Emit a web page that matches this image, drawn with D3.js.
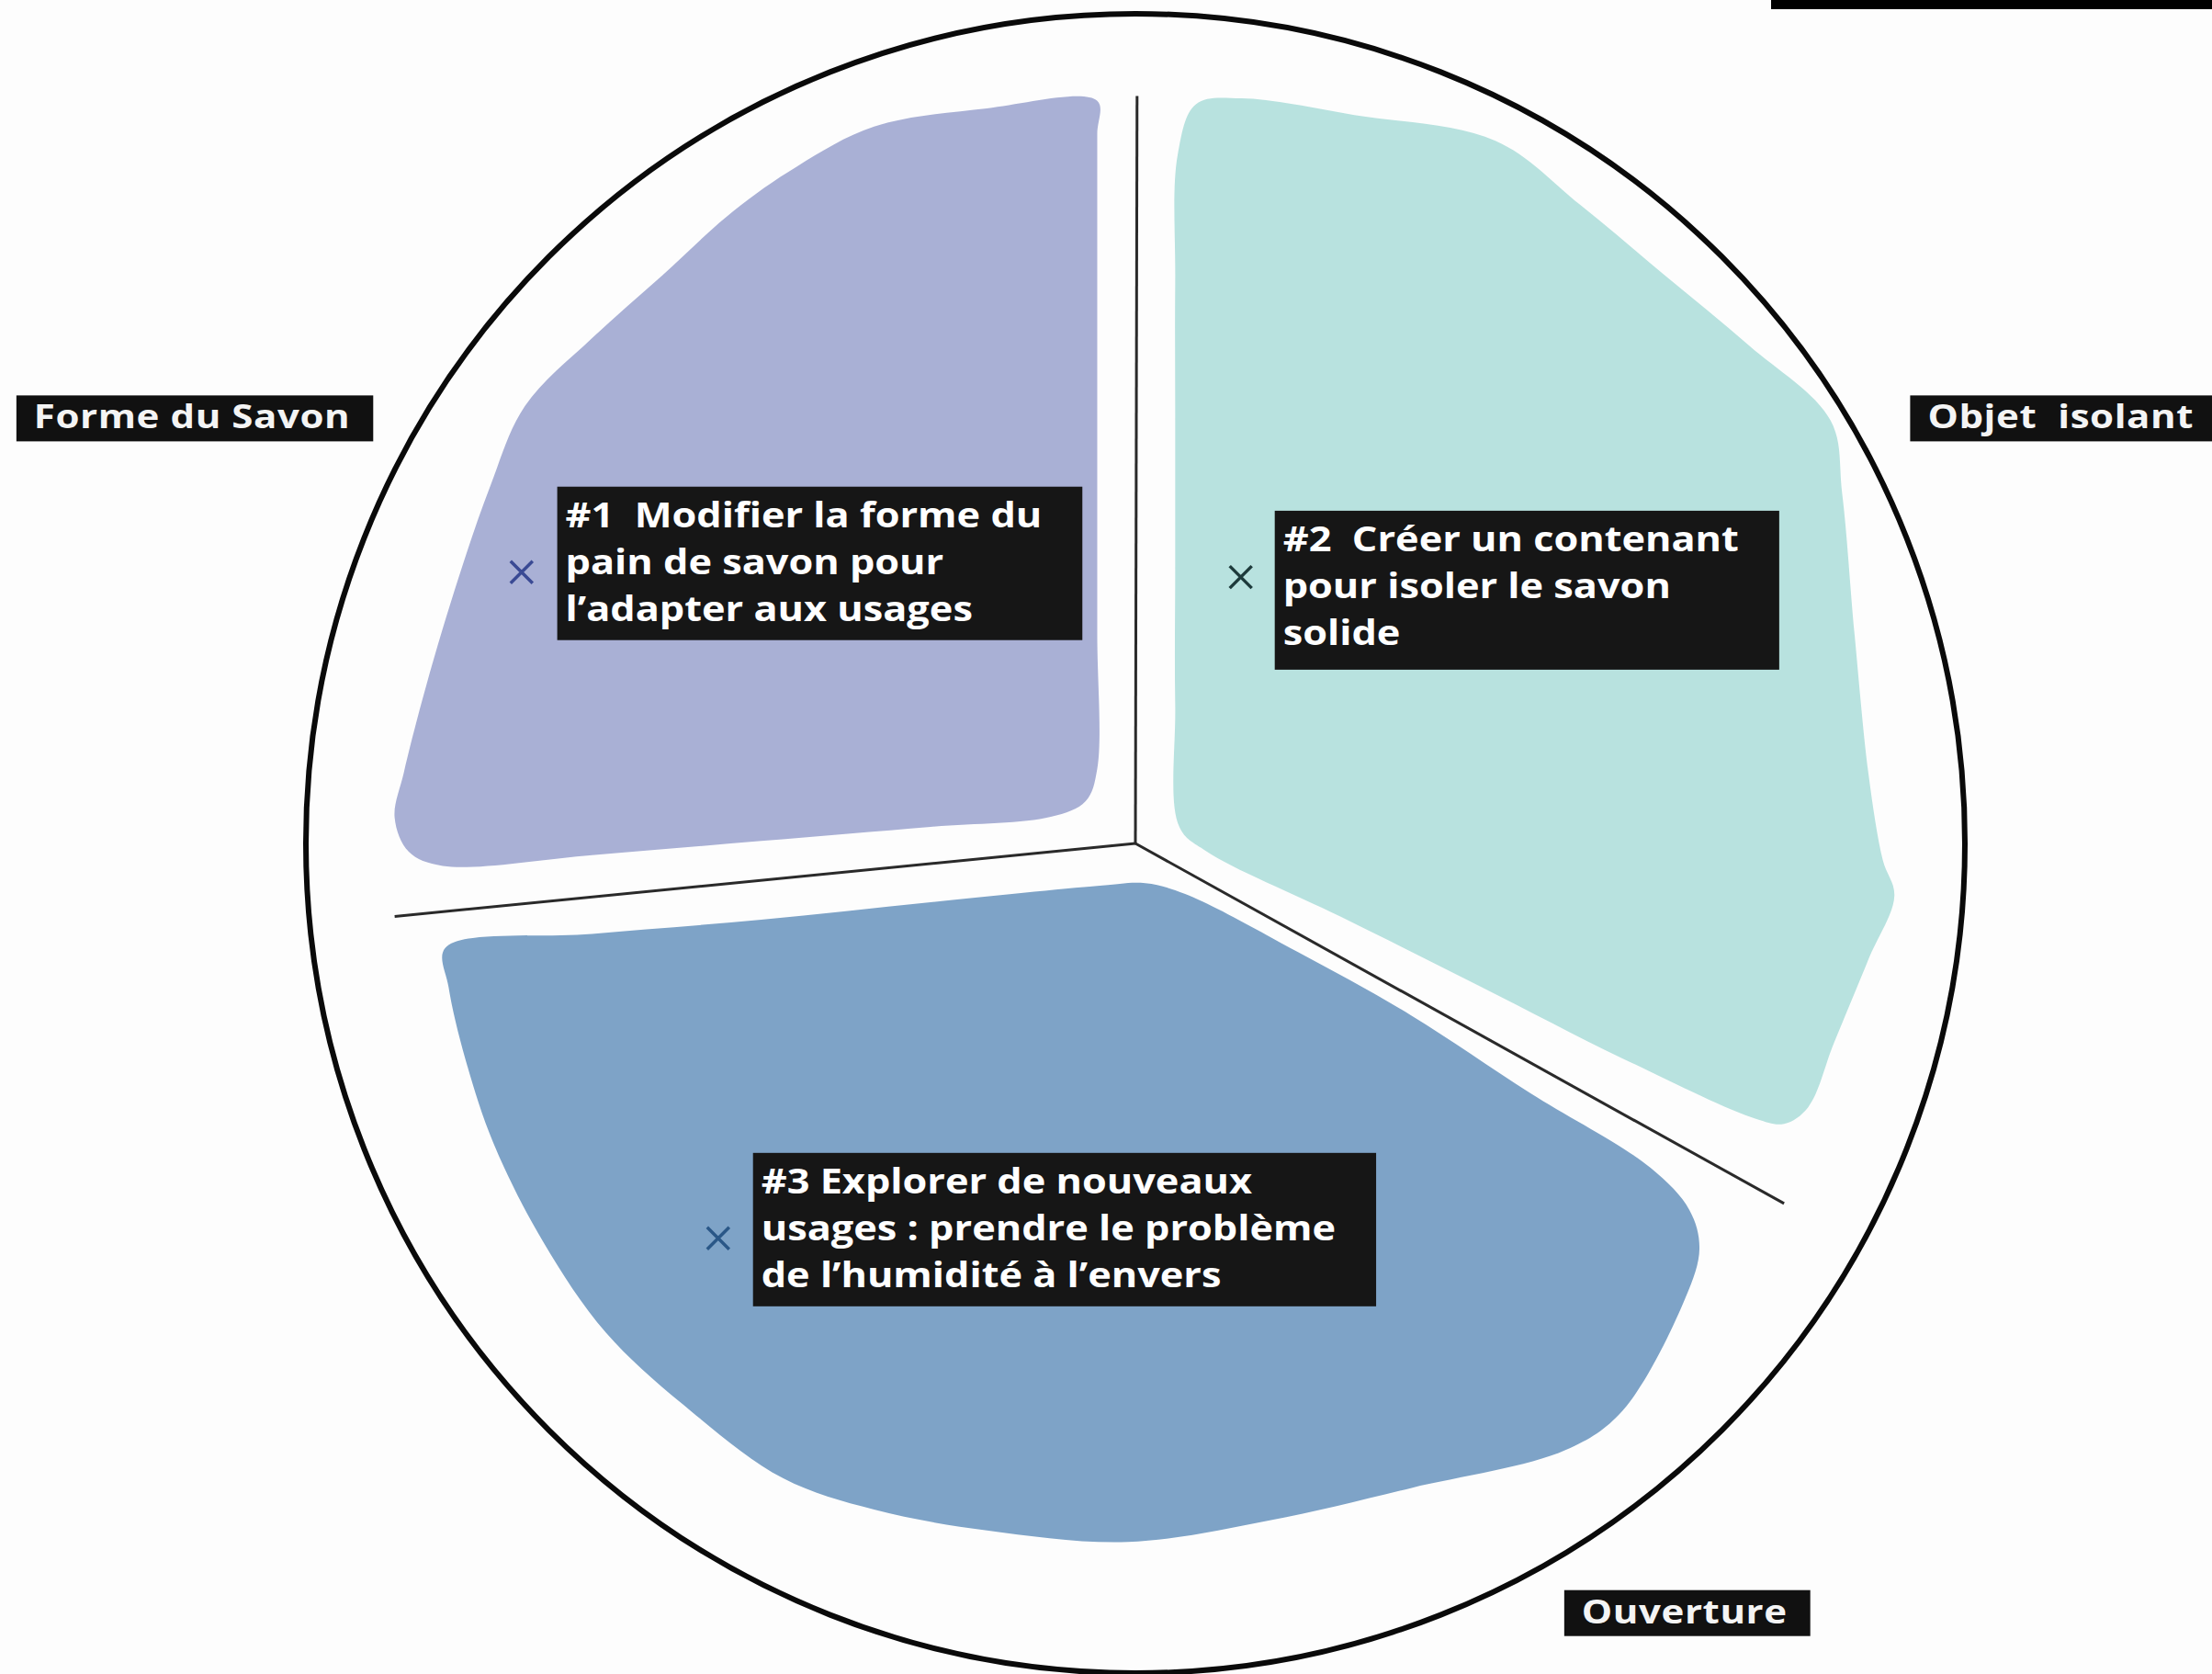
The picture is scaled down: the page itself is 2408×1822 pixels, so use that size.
<!DOCTYPE html>
<html>
<head>
  <meta charset="utf-8">
  <title>Pistes - savon solide</title>
  <script src="https://cdn.jsdelivr.net/npm/d3@7"></script>
  <style>
    body { margin: 0; background: #fdfdfd; }
    svg text { font-family: "Open Sans", sans-serif; font-weight: 700; white-space: pre; }
  </style>
</head>
<body>

<svg width="2408" height="1822"></svg>

<script>
    // axes / categories around the circle
    const categories = ['Forme du Savon', 'Objet  isolant', 'Ouverture'];
    // where each category tag sits (circle units, centre = 0, radius = 1)
    const categoryPos = [[-1.349, -0.540], [0.934, -0.540], [0.517, 0.900]];

    // the three ideas
    const ideaLines = [
        ['#1  Modifier la forme du', 'pain de savon pour', 'l\u2019adapter aux usages'],
        ['#2  Cr\u00e9er un contenant', 'pour isoler le savon', 'solide'],
        ['#3 Explorer de nouveaux', 'usages : prendre le probl\u00e8me', 'de l\u2019humidit\u00e9 \u00e0 l\u2019envers']
    ];
    const ideaBoxPos = [[-0.697, -0.430], [0.168, -0.401], [-0.461, 0.373]];
    const ideaMarks = [[-0.740, -0.327], [0.127, -0.321], [-0.503, 0.476]];
    const ideaColors = ['#a9b0d5', '#b8e2df', '#7ea3c7'];
    const markColors = ['#3a4a94', '#1e3b3c', '#2a5787'];

    // blob outlines (circle units)
    const blobForme = [
        [-0.046, -0.895], [-0.179, -0.886], [-0.315, -0.864], [-0.408, -0.816],
        [-0.485, -0.762], [-0.570, -0.685], [-0.655, -0.609], [-0.736, -0.527],
        [-0.778, -0.430], [-0.816, -0.320], [-0.855, -0.190], [-0.882, -0.085],
        [-0.893, -0.031], [-0.876, 0.010], [-0.835, 0.027], [-0.655, 0.014],
        [-0.451, -0.003], [-0.247, -0.020], [-0.102, -0.032], [-0.060, -0.051],
        [-0.046, -0.090], [-0.046, -0.252], [-0.046, -0.422], [-0.046, -0.592],
        [-0.046, -0.762], [-0.046, -0.855]
    ];
    const blobObjet = [
        [0.073, -0.891], [0.128, -0.898], [0.264, -0.878], [0.434, -0.847],
        [0.536, -0.770], [0.638, -0.685], [0.740, -0.600], [0.838, -0.510],
        [0.852, -0.422], [0.867, -0.252], [0.884, -0.082], [0.901, 0.020],
        [0.915, 0.063], [0.884, 0.139], [0.842, 0.241], [0.811, 0.318],
        [0.782, 0.338], [0.748, 0.332], [0.587, 0.259], [0.417, 0.173],
        [0.247, 0.088], [0.085, 0.009], [0.053, -0.020], [0.048, -0.167],
        [0.048, -0.337], [0.048, -0.507], [0.048, -0.677], [0.051, -0.830]
    ];
    const blobOuverture = [
        [-0.832, 0.126], [-0.655, 0.109], [-0.451, 0.092], [-0.247, 0.071],
        [-0.043, 0.051], [0.012, 0.048], [0.060, 0.061], [0.196, 0.131],
        [0.332, 0.207], [0.476, 0.301], [0.621, 0.391], [0.668, 0.442],
        [0.680, 0.488], [0.663, 0.548], [0.587, 0.684], [0.519, 0.731],
        [0.332, 0.777], [0.162, 0.816], [-0.009, 0.842],
        [-0.179, 0.828], [-0.315, 0.803], [-0.425, 0.765], [-0.536, 0.684],
        [-0.638, 0.590], [-0.714, 0.480], [-0.774, 0.361], [-0.808, 0.259],
        [-0.828, 0.173]
    ];
    const blobs = [blobForme, blobObjet, blobOuverture];

    // dividing spokes from the centre
    const spokes = [[0.002, -0.901], [-0.893, 0.088], [0.782, 0.434]];

    const svg = d3.select('svg');
    const cx = 1236, cy = 918, R = 903;
    const x = d3.scaleLinear().domain([-1, 1]).range([cx - R, cx + R]);
    const y = d3.scaleLinear().domain([-1, 1]).range([cy - R, cy + R]);

    // little black bar top right
    svg.append('rect')
        .attr('x', 1928).attr('y', 0).attr('width', 480).attr('height', 10)
        .attr('fill', '#000');

    const blobPath = d3.line()
        .x(d => x(d[0]))
        .y(d => y(d[1]))
        .curve(d3.curveCatmullRomClosed.alpha(0.5));

    svg.selectAll('path.blob').data(blobs)
        .enter().append('path')
            .attr('class', 'blob')
            .attr('d', blobPath)
            .attr('fill', (d, i) => ideaColors[i]);

    svg.append('circle')
        .attr('cx', x(0)).attr('cy', y(0)).attr('r', x(1) - x(0))
        .attr('fill', 'none')
        .attr('stroke', '#0a0a0a')
        .attr('stroke-width', 6);

    svg.selectAll('line.spoke').data(spokes)
        .enter().append('line')
            .attr('class', 'spoke')
            .attr('x1', x(0)).attr('y1', y(0))
            .attr('x2', d => x(d[0])).attr('y2', d => y(d[1]))
            .attr('stroke', '#2a2a2a')
            .attr('stroke-width', 3);

    // idea boxes (text stretched a bit to get the wide geometric look)
    const sxIdea = 1.17;
    const ideaBoxH = [167, 173, 167];
    const ideas = svg.selectAll('g.idea').data(ideaLines)
        .enter().append('g')
            .attr('class', 'idea')
            .attr('transform', (d, i) => `translate(${x(ideaBoxPos[i][0])},${y(ideaBoxPos[i][1])})`);

    ideas.each(function(lines, i) {
        const g = d3.select(this);
        const bg = g.append('rect').attr('fill', '#161616');
        const t = g.append('text')
            .attr('transform', `scale(${sxIdea},1)`)
            .attr('fill', '#fff')
            .attr('font-size', 37);
        t.selectAll('tspan').data(lines)
            .enter().append('tspan')
                .attr('x', 9 / sxIdea)
                .attr('y', (d, k) => 44 + k * 51)
                .text(d => d);
        const bb = t.node().getBBox();
        bg.attr('x', 0).attr('y', 0)
            .attr('width', (bb.x + bb.width) * sxIdea + 44)
            .attr('height', ideaBoxH[i]);
    });

    // x markers
    const s = 12;
    svg.selectAll('path.mark').data(ideaMarks)
        .enter().append('path')
            .attr('class', 'mark')
            .attr('d', d => {
                const px = x(d[0]), py = y(d[1]);
                return `M${px - s},${py - s}L${px + s},${py + s}M${px - s},${py + s}L${px + s},${py - s}`;
            })
            .attr('stroke', (d, i) => markColors[i])
            .attr('stroke-width', 3.5);

    // category tags
    const sxTag = 1.2;
    const tags = svg.selectAll('g.tag').data(categories)
        .enter().append('g')
            .attr('class', 'tag')
            .attr('transform', (d, i) => `translate(${x(categoryPos[i][0])},${y(categoryPos[i][1])})`);

    tags.each(function(name) {
        const g = d3.select(this);
        const bg = g.append('rect').attr('fill', '#111');
        const t = g.append('text')
            .attr('transform', `scale(${sxTag},1)`)
            .attr('x', 19 / sxTag)
            .attr('y', 36)
            .attr('fill', '#f4f4f4')
            .attr('font-size', 35)
            .attr('letter-spacing', 0.5)
            .text(name);
        const bb = t.node().getBBox();
        bg.attr('x', 0).attr('y', 0)
            .attr('width', bb.width * sxTag + 44)
            .attr('height', 50);
    });
</script>

</body>
</html>
